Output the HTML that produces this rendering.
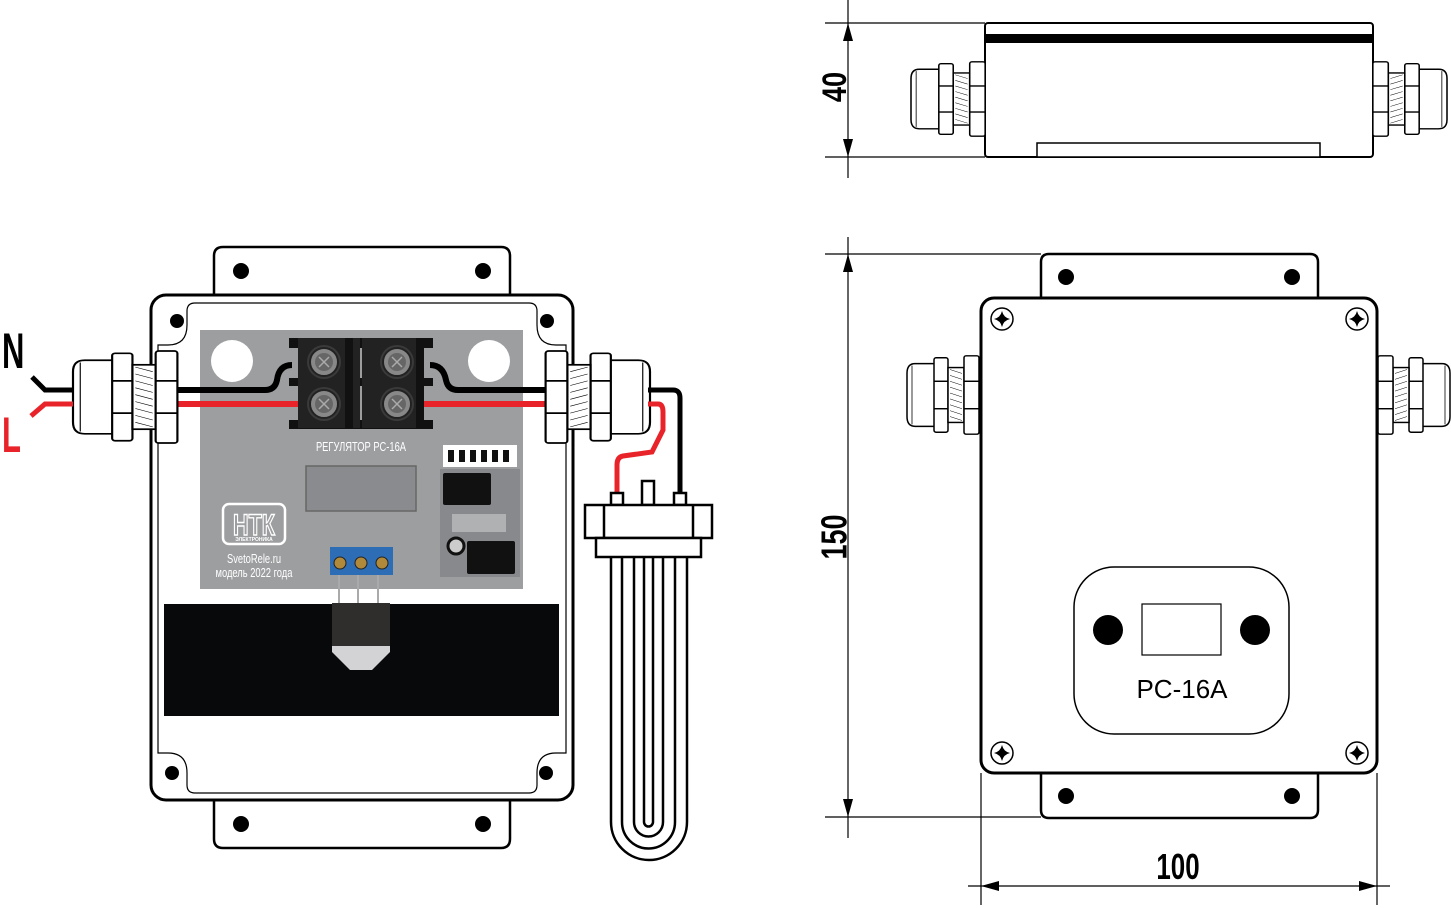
<!DOCTYPE html>
<html><head><meta charset="utf-8"><style>
html,body{margin:0;padding:0;background:#fff;}
svg{display:block;}
text{font-family:"Liberation Sans",sans-serif;}
</style></head><body>
<svg width="1451" height="908" viewBox="0 0 1451 908" xmlns="http://www.w3.org/2000/svg">
<defs>
<g id="gland" stroke="#000" stroke-width="1.5" fill="#fff">
  <path d="M28,-32 L8,-32 Q0,-32 0,-22 L0,22 Q0,32 8,32 L28,32 Z"/>
  <line x1="5" y1="-30" x2="5" y2="30" stroke-width="0.8"/>
  <rect x="27" y="-38" width="14" height="76" rx="2"/>
  <line x1="27" y1="-14" x2="41" y2="-14"/><line x1="27" y1="14" x2="41" y2="14"/>
  <rect x="41" y="-28" width="16" height="56"/>
  <path d="M43,-26 L55,-22 M43,-20 L55,-16 M43,-14 L55,-10 M43,-8 L55,-4 M43,-2 L55,2 M43,4 L55,8 M43,10 L55,14 M43,16 L55,20 M43,22 L55,26" stroke-width="0.5"/>
  <rect x="57" y="-40" width="15" height="80" rx="2"/>
  <line x1="57" y1="-14" x2="72" y2="-14"/><line x1="57" y1="14" x2="72" y2="14"/>
</g>
<g id="screw">
  <circle r="11" fill="#fff" stroke="#000" stroke-width="1.5"/>
  <path d="M0,-8 Q1.5,-1.5 8,0 Q1.5,1.5 0,8 Q-1.5,1.5 -8,0 Q-1.5,-1.5 0,-8Z" fill="#000"/>
</g>
<g id="tscrew">
  <circle r="17" fill="#3a3a3a"/>
  <circle r="14" fill="#888" stroke="#222" stroke-width="2"/>
  <circle r="9" fill="#666"/>
  <path d="M-5,-5 L5,5 M5,-5 L-5,5" stroke="#aaa" stroke-width="1.5"/>
</g>
</defs>

<path d="M214,300 L214,256 Q214,247 223,247 L501,247 Q510,247 510,256 L510,300" fill="#fff" stroke="#000" stroke-width="2.5"/>
<circle cx="241" cy="271" r="8"/><circle cx="483" cy="271" r="8"/>
<path d="M214,795 L214,839 Q214,848 223,848 L501,848 Q510,848 510,839 L510,795" fill="#fff" stroke="#000" stroke-width="2.5"/>
<circle cx="241" cy="824" r="8"/><circle cx="483" cy="824" r="8"/>
<rect x="151" y="295" width="422" height="505" rx="15" fill="#fff" stroke="#000" stroke-width="3"/>
<path d="M158,345 L168,345 Q187,345 187,325 L187,311 Q187,303 195,303 L529,303 Q537,303 537,311 L537,325 Q537,345 556,345 L566,345 L566,753 L556,753 Q537,753 537,773 L537,785 Q537,793 529,793 L195,793 Q187,793 187,785 L187,773 Q187,753 168,753 L158,753 Z" fill="#fff" stroke="#000" stroke-width="1.2"/>
<circle cx="177" cy="321" r="7"/><circle cx="547" cy="321" r="7"/>
<circle cx="172" cy="773" r="7"/><circle cx="546" cy="773" r="7"/>

<rect x="200" y="330" width="323" height="259" fill="#9d9ea0"/>
<circle cx="232" cy="361" r="21" fill="#fff"/><circle cx="489" cy="361" r="21" fill="#fff"/>
<path d="M178,390 L265,390 Q275,390 277,380 Q279,365 292,365" fill="none" stroke="#000" stroke-width="6"/>
<path d="M178,404 L300,404" stroke="#e8242a" stroke-width="6"/>
<path d="M430,365 Q443,365 446,380 Q448,390 458,390 L548,390" fill="none" stroke="#000" stroke-width="6"/>
<path d="M415,404 L548,404" stroke="#e8242a" stroke-width="6"/>
<rect x="289" y="338" width="144" height="10" fill="#111"/>
<rect x="289" y="378" width="144" height="8" fill="#111"/>
<rect x="289" y="420" width="144" height="9" fill="#111"/>
<rect x="298" y="338" width="62" height="90" fill="#222"/>
<rect x="362" y="338" width="62" height="90" fill="#222"/>
<rect x="345" y="338" width="8" height="90" fill="#111"/>
<rect x="416" y="338" width="8" height="90" fill="#111"/>
<use href="#tscrew" x="324" y="362"/><use href="#tscrew" x="397" y="362"/>
<use href="#tscrew" x="324" y="404"/><use href="#tscrew" x="397" y="404"/>
<text x="361" y="451" font-size="13" fill="#fff" text-anchor="middle" transform="translate(361,0) scale(0.72,1) translate(-361,0)">РЕГУЛЯТОР РС-16А</text>
<rect x="306" y="466" width="110" height="45" fill="#8a8b8e" stroke="#666" stroke-width="1.5"/>
<rect x="443" y="445" width="74" height="22" fill="#fff"/>
<g fill="#111"><rect x="448" y="450" width="6" height="12"/><rect x="459" y="450" width="6" height="12"/><rect x="470" y="450" width="6" height="12"/><rect x="481" y="450" width="6" height="12"/><rect x="492" y="450" width="6" height="12"/><rect x="503" y="450" width="6" height="12"/></g>
<rect x="440" y="469" width="80" height="108" fill="#88898c"/>
<rect x="443" y="473" width="48" height="32" rx="2" fill="#111"/>
<rect x="452" y="514" width="54" height="18" fill="#b0b1b3"/>
<rect x="467" y="541" width="48" height="33" rx="2" fill="#111"/>
<circle cx="456" cy="546" r="8" fill="#ccc" stroke="#111" stroke-width="3"/>
<rect x="223" y="504" width="62" height="40" rx="6" fill="none" stroke="#fff" stroke-width="2.5"/>
<text x="254" y="535" font-size="30" font-weight="bold" fill="#9d9ea0" stroke="#fff" stroke-width="1.5" text-anchor="middle" transform="translate(254,0) scale(0.72,1) translate(-254,0)">НТК</text>
<text x="254" y="541" font-size="5" fill="#fff" text-anchor="middle" font-weight="bold">ЭЛЕКТРОНИКА</text>
<text x="254" y="563" font-size="13" fill="#fff" text-anchor="middle" transform="translate(254,0) scale(0.72,1) translate(-254,0)">SvetoRele.ru</text>
<text x="254" y="577" font-size="13" fill="#fff" text-anchor="middle" transform="translate(254,0) scale(0.72,1) translate(-254,0)">модель 2022 года</text>
<rect x="330" y="547" width="63" height="28" fill="#2d6db5"/>
<circle cx="340" cy="563" r="6" fill="#b08a3a" stroke="#222"/><circle cx="361" cy="563" r="6" fill="#b08a3a" stroke="#222"/><circle cx="382" cy="563" r="6" fill="#b08a3a" stroke="#222"/>
<rect x="164" y="604" width="395" height="112" fill="#08090a"/>
<g stroke="#aaa" stroke-width="2"><line x1="339" y1="575" x2="339" y2="604"/><line x1="358" y1="575" x2="358" y2="604"/><line x1="378" y1="575" x2="378" y2="604"/></g>
<rect x="332" y="603" width="58" height="43" fill="#302e2c"/>
<path d="M332,646 L390,646 L390,652 L372,670 L350,670 L332,652 Z" fill="#d3d3d5"/>

<g transform="translate(73,397) scale(1.45,1.15)"><use href="#gland"/></g>
<g transform="translate(650,397) scale(-1.45,1.15)"><use href="#gland"/></g>
<text x="2" y="368" font-size="50" font-weight="bold" transform="translate(2,0) scale(0.62,1) translate(-2,0)">N</text>
<path d="M32,377 L45,390 L73,390" fill="none" stroke="#000" stroke-width="5"/>
<text x="2" y="452" font-size="50" font-weight="bold" fill="#e8242a" transform="translate(2,0) scale(0.62,1) translate(-2,0)">L</text>
<path d="M31,416 L45,404 L73,404" fill="none" stroke="#e8242a" stroke-width="5"/>
<path d="M648,390 L673,390 Q680,390 680,398 L680,492" fill="none" stroke="#000" stroke-width="5"/>
<path d="M648,404 L658,404 Q663,404 663,412 L663,430 L652,452 L623,456 Q617,457 617,465 L617,492" fill="none" stroke="#e8242a" stroke-width="5"/>
<g fill="#fff" stroke="#000" stroke-width="2.5">
<rect x="611" y="493" width="12" height="12"/><rect x="642" y="481" width="12" height="24"/><rect x="674" y="493" width="12" height="12"/>
<rect x="585" y="505" width="127" height="33"/>
<line x1="604" y1="505" x2="604" y2="538"/><line x1="693" y1="505" x2="693" y2="538"/>
<rect x="596" y="538" width="105" height="19"/>
</g>
<g fill="none" stroke="#000" stroke-width="2.5">
<path d="M611,557 L611,822 A38,38 0 0 0 687,822 L687,557"/>
<path d="M622,557 L622,822 A26.5,26.5 0 0 0 675,822 L675,557"/>
<path d="M634,557 L634,822 A14.5,14.5 0 0 0 663,822 L663,557"/>
<path d="M644,557 L644,822 A4.5,4.5 0 0 0 653,822 L653,557"/>
</g>

<g stroke="#000" stroke-width="1.2" fill="none">
<line x1="848" y1="0" x2="848" y2="178"/>
<line x1="825" y1="23" x2="985" y2="23"/><line x1="825" y1="157" x2="985" y2="157"/>
</g>
<path d="M848,23 L843,41 L853,41Z M848,157 L843,139 L853,139Z"/>
<text x="837" y="87" font-size="34" font-weight="bold" text-anchor="middle" dominant-baseline="middle" transform="rotate(-90 837 87) translate(837,87) scale(0.8,1) translate(-837,-87)">40</text>
<rect x="985" y="23" width="388" height="134" rx="3" fill="#fff" stroke="#000" stroke-width="2"/>
<rect x="985" y="34" width="388" height="9" fill="#000"/>
<rect x="1037" y="143" width="283" height="14" fill="#fff" stroke="#000" stroke-width="1.5"/>
<g transform="translate(911,99) scale(1.03,0.93)"><use href="#gland"/></g>
<g transform="translate(1447,99) scale(-1.03,0.93)"><use href="#gland"/></g>

<g stroke="#000" stroke-width="1.2" fill="none">
<line x1="848" y1="237" x2="848" y2="838"/>
<line x1="825" y1="254" x2="1041" y2="254"/><line x1="825" y1="817" x2="1041" y2="817"/>
<line x1="968" y1="886" x2="1390" y2="886"/>
<line x1="981" y1="773" x2="981" y2="905"/><line x1="1377" y1="773" x2="1377" y2="905"/>
</g>
<path d="M848,254 L843,272 L853,272Z M848,817 L843,799 L853,799Z M981,886 L999,881 L999,891Z M1377,886 L1359,881 L1359,891Z"/>
<text x="837" y="537" font-size="36" font-weight="bold" text-anchor="middle" dominant-baseline="middle" transform="rotate(-90 837 537) translate(837,537) scale(0.75,1) translate(-837,-537)">150</text>
<text x="1178" y="879" font-size="36" font-weight="bold" text-anchor="middle" transform="translate(1178,0) scale(0.72,1) translate(-1178,0)">100</text>

<path d="M1041,300 L1041,262 Q1041,254 1049,254 L1310,254 Q1318,254 1318,262 L1318,300" fill="#fff" stroke="#000" stroke-width="2.5"/>
<path d="M1041,772 L1041,810 Q1041,818 1049,818 L1310,818 Q1318,818 1318,810 L1318,772" fill="#fff" stroke="#000" stroke-width="2.5"/>
<circle cx="1066" cy="277" r="8"/><circle cx="1292" cy="277" r="8"/>
<circle cx="1066" cy="796" r="8"/><circle cx="1292" cy="796" r="8"/>
<g transform="translate(907,395) scale(1,0.98)"><use href="#gland"/></g>
<g transform="translate(1450,395) scale(-1,0.98)"><use href="#gland"/></g>
<rect x="981" y="298" width="396" height="475" rx="13" fill="#fff" stroke="#000" stroke-width="3"/>
<use href="#screw" x="1002" y="319"/><use href="#screw" x="1357" y="319"/>
<use href="#screw" x="1002" y="753"/><use href="#screw" x="1357" y="753"/>
<rect x="1074" y="567" width="215" height="167" rx="40" fill="#fff" stroke="#000" stroke-width="1.5"/>
<circle cx="1108" cy="630" r="15"/><circle cx="1255" cy="630" r="15"/>
<rect x="1142" y="604" width="79" height="51" fill="#fff" stroke="#000" stroke-width="1.2"/>
<text x="1182" y="698" font-size="26" text-anchor="middle">PC-16A</text>
</svg>
</body></html>
